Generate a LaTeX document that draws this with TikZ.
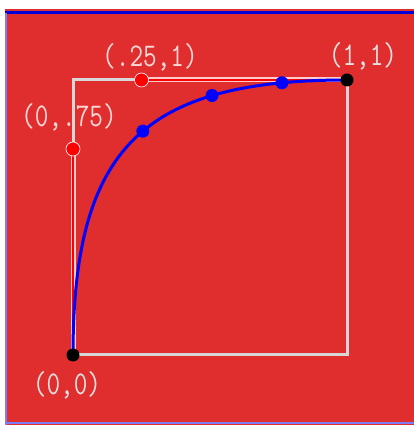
\documentclass[tikz,border=0pt]{standalone}
\usepackage{fontspec}
\definecolor{bgred}{RGB}{224,45,45}
\definecolor{lav}{RGB}{125,125,250}
\definecolor{sqgray}{RGB}{215,215,215}
\definecolor{grayw}{RGB}{225,225,225}
\definecolor{pinkw}{RGB}{255,215,215}
\newcommand{\tallbox}[1]{\scalebox{1}[1.25]{#1}}
\begin{document}
\begin{tikzpicture}[x=1pt,y=1pt,
  lbl/.style={font=\ttfamily\fontsize{26.5}{30}\selectfont, inner sep=0pt},
  dotbase/.style={circle, inner sep=0pt, minimum size=13pt},
  reddot/.style={dotbase, minimum size=14pt, fill=red, draw=white, line width=0.6pt},
  bluedot/.style={dotbase, fill=blue},
  blackdot/.style={dotbase, fill=black},
]
\useasboundingbox (0,0) rectangle (414,425);
\fill[white] (0,0) rectangle (414,425);
\fill[bgred] (5,0) rectangle (414,416);
\draw[blue!85!black, line width=2.5pt] (5,412.5) -- (414,412.5);
\draw[lav, line width=2pt] (6,0) -- (6,412);
\draw[lav, line width=2pt] (5,2) -- (414,2);
\coordinate (O) at (73,70);
\coordinate (A) at (73,276);
\coordinate (B) at (141.5,345);
\coordinate (C) at (347,345);
\draw[sqgray, line width=3pt] (O) rectangle (C);
\draw[white!80!red, line width=5pt] (O) -- (A) (B) -- (C);
\draw[red, line width=2.6pt] (O) -- (A) (B) -- (C);
\draw[blue, line width=3pt] (O) .. controls (A) and (B) .. (C)
  node[pos=0.537, bluedot] (P1) {}
  node[pos=0.737, bluedot] (P2) {}
  node[pos=0.886, bluedot] (P3) {};
\node[reddot] (DA) at (A) {};
\node[reddot] (DB) at (B) {};
\node[blackdot] (DO) at (O) {};
\node[blackdot] (DC) at (C) {};
\node[lbl, text=pinkw] (LB) at (150,368) {\tallbox{(.25,1)}};
\node[lbl, text=grayw] (LC) at (363,369) {\tallbox{(1,1)}};
\node[lbl, text=pinkw] (LA) at (69,308) {\tallbox{(0,.75)}};
\node[lbl, text=grayw] (LO) at (67,40) {\tallbox{(0,0)}};
\end{tikzpicture}
\end{document}
